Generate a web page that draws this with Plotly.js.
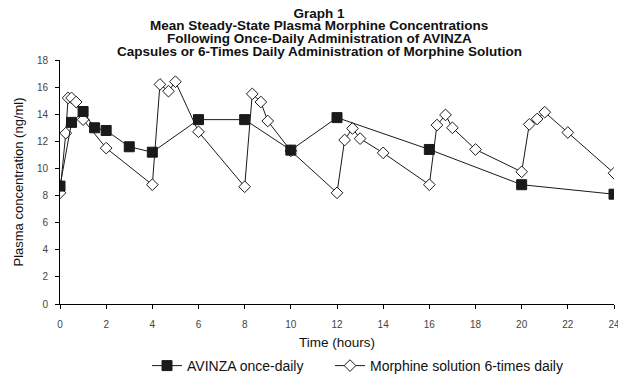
<!DOCTYPE html>
<html>
<head>
<meta charset="utf-8">
<script src="https://cdn.plot.ly/plotly-3.0.1.min.js"></script>
<style>html,body{margin:0;padding:0;background:#fff;}#chart{width:618px;height:376px;}</style>
</head>
<body>
<div id="chart"></div>
<script>
// AVINZA once-daily
var avinzaTime = [0, 0.5, 1, 1.5, 2, 3, 4, 6, 8, 10, 12, 16, 20, 24];
var avinzaConc = [8.7, 13.4, 14.2, 13.0, 12.8, 11.6, 11.2, 13.6, 13.6, 11.35, 13.75, 11.4, 8.8, 8.1];

// Morphine solution 6-times daily
var morphTime = [0, 0.25, 0.35, 0.5, 0.7, 1, 2, 4, 4.33, 4.7, 5, 6, 8, 8.33, 8.7, 9, 10, 12, 12.33, 12.67, 13, 14, 16, 16.33, 16.7, 17, 18, 20, 20.33, 20.67, 21, 22, 24];
var morphConc = [8.2, 12.6, 15.2, 15.2, 14.9, 13.6, 11.5, 8.8, 16.2, 15.7, 16.4, 12.7, 8.65, 15.5, 14.9, 13.5, 11.3, 8.2, 12.1, 12.95, 12.2, 11.15, 8.8, 13.2, 13.95, 13.0, 11.4, 9.75, 13.25, 13.65, 14.15, 12.65, 9.65];

var seriesNames = ["AVINZA once-daily", "Morphine solution 6-times daily"];
var xTicks = [0, 2, 4, 6, 8, 10, 12, 14, 16, 18, 20, 22, 24];
var yTicks = [0, 2, 4, 6, 8, 10, 12, 14, 16, 18];
var titleLines = [
  "Graph 1",
  "Mean Steady-State Plasma Morphine Concentrations",
  "Following Once-Daily Administration of AVINZA",
  "Capsules or 6-Times Daily Administration of Morphine Solution"
];

var FONT = "Liberation Sans, Arial, sans-serif";
var titleFont = {family: FONT, size: 13.5, color: "#111", weight: "bold"};
var legendFont = {family: FONT, size: 14, color: "#111"};

var traces = [
  {
    x: morphTime, y: morphConc, name: seriesNames[1], type: "scatter", mode: "lines+markers",
    legend: "legend2",
    line: {color: "#1a1a1a", width: 1},
    marker: {symbol: "diamond", size: 9, color: "#ffffff", line: {color: "#1a1a1a", width: 1}}
  },
  {
    x: avinzaTime, y: avinzaConc, name: seriesNames[0], type: "scatter", mode: "lines+markers",
    legend: "legend",
    line: {color: "#1a1a1a", width: 1},
    marker: {symbol: "square", size: 10, color: "#1a1a1a", line: {color: "#1a1a1a", width: 1}}
  }
];

var tickFont = {family: FONT, size: 10, color: "#444"};

// title lines 2-4 placed at fixed pixel rows
var lineRows = [26, 39, 52];
var annotations = lineRows.map(function (row, i) {
  return {
    text: titleLines[i + 1], xref: "paper", yref: "paper",
    x: (319 - 60) / 554, y: (304 - row) / 244,
    xanchor: "center", yanchor: "middle", showarrow: false, font: titleFont
  };
});

var layout = {
  width: 618, height: 376,
  margin: {l: 60, r: 4, t: 60, b: 72},
  paper_bgcolor: "#fff", plot_bgcolor: "#fff",
  showlegend: true,
  title: {
    text: titleLines[0],
    font: titleFont,
    x: 319 / 618, xref: "container", xanchor: "center",
    y: 1 - 13 / 376, yref: "container", yanchor: "middle"
  },
  annotations: annotations,
  xaxis: {
    range: [0, 24], tickvals: xTicks, ticktext: xTicks.map(String),
    ticks: "outside", ticklen: 4, tickcolor: "#000", tickwidth: 1,
    showline: true, linecolor: "#000", linewidth: 1,
    showgrid: false, zeroline: false,
    tickfont: tickFont, ticklabelstandoff: 7, ticklabeloverflow: "allow",
    title: {text: "Time (hours)", font: {family: FONT, size: 13.5, color: "#111"}, standoff: 14}
  },
  yaxis: {
    range: [0, 18], tickvals: yTicks, ticktext: yTicks.map(String),
    ticks: "outside", ticklen: 4, tickcolor: "#000", tickwidth: 1,
    showline: true, linecolor: "#000", linewidth: 1,
    showgrid: false, zeroline: false,
    tickfont: tickFont, ticklabelstandoff: 5,
    title: {text: "Plasma concentration (ng/ml)", font: {family: FONT, size: 13, color: "#111"}, standoff: 10}
  },
  legend: {
    orientation: "h",
    x: 147 / 618, xref: "container", xanchor: "left",
    y: 1 - 350 / 376, yref: "container", yanchor: "top",
    font: legendFont, bgcolor: "rgba(0,0,0,0)"
  },
  legend2: {
    orientation: "h",
    x: 330 / 618, xref: "container", xanchor: "left",
    y: 1 - 350 / 376, yref: "container", yanchor: "top",
    font: legendFont, bgcolor: "rgba(0,0,0,0)"
  }
};

Plotly.newPlot("chart", traces, layout, {displayModeBar: false, staticPlot: true});
</script>
</body>
</html>
